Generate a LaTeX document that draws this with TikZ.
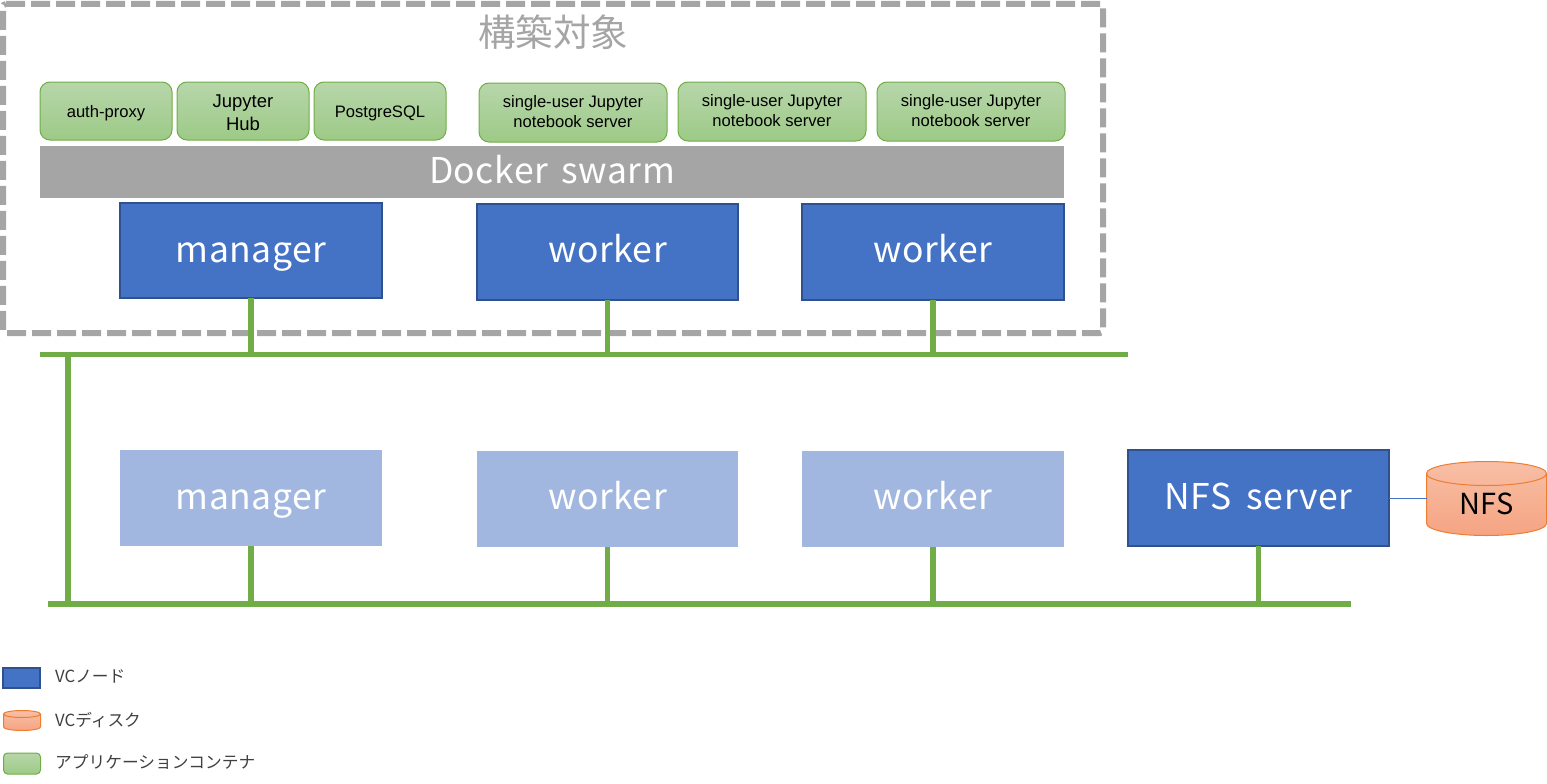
\documentclass[tikz,border=0pt]{standalone}
\usepackage{fontspec}
\setmainfont{Liberation Sans}
\newfontfamily\jpfont[LetterSpace=1.5]{Noto Sans CJK JP}
\newfontfamily\jpplain{Noto Sans CJK JP}
\definecolor{vcblue}{HTML}{4472C4}
\definecolor{vcedge}{HTML}{2F528F}
\definecolor{vclight}{HTML}{A1B7E0}
\definecolor{busgreen}{HTML}{70AD47}
\definecolor{conttop}{HTML}{B7D6AA}
\definecolor{contbot}{HTML}{9DCA87}
\definecolor{disktop}{HTML}{F8BFA6}
\definecolor{diskbot}{HTML}{F5A482}
\definecolor{diskedge}{HTML}{ED7D31}
\definecolor{swarmgrey}{HTML}{A5A5A5}
\tikzset{
  box/.style={anchor=north west,inner sep=0pt,outer sep=0pt},
  bigtext/.style={text height=26pt,text depth=6pt,font=\jpfont\fontsize{35.5}{38}\selectfont},
  lowered/.style={text height=29pt,text depth=6pt},
  vcnode/.style={box,bigtext,fill=vcblue,draw=vcedge,line width=1.6pt,text=white},
  vcghost/.style={box,bigtext,fill=vclight,text=white},
  container/.style={box,rounded corners=10pt,draw=busgreen,line width=1pt,top color=conttop,bottom color=contbot,text=black,font=\fontsize{16.6}{20}\selectfont},
  oneline/.style={text height=16pt,text depth=4pt},
  bus/.style={busgreen,line width=5.5pt},
  legendtext/.style={anchor=west,inner sep=0pt,text=black!75,font=\jpplain\fontsize{16.7}{18}\selectfont},
}
\newcommand{\twolines}[3]{\raisebox{#3}[\height][\depth]{\begin{tabular}{@{}c@{}}#1\\#2\end{tabular}}}
\newcommand{\diskshape}[5]{% x y w h ry
  \path[draw=diskedge,line width=1pt,top color=disktop,bottom color=diskbot]
    (#1pt,-#2pt-#5pt) arc[start angle=180,end angle=0,x radius=#3pt/2,y radius=#5pt]
    -- ++(0pt,-#4pt+2*#5pt) arc[start angle=0,end angle=-180,x radius=#3pt/2,y radius=#5pt] -- cycle;
  \draw[diskedge,line width=1pt] (#1pt,-#2pt-#5pt) arc[start angle=180,end angle=360,x radius=#3pt/2,y radius=#5pt];
}
\begin{document}
\begin{tikzpicture}[x=1pt,y=-1pt]
\useasboundingbox (0,0) rectangle (1547,784);
% target frame
\node[box,minimum width=1100pt,minimum height=329pt] (frame) at (3,4) {};
\draw[swarmgrey,line width=6pt,dash pattern=on 19pt off 6pt,rounded corners=3pt]
  (frame.north west) -- (frame.north east) -- (frame.south east) -- (frame.south west) -- cycle;
\node[anchor=center,inner sep=0pt,text=swarmgrey,font=\jpplain\fontsize{37.5}{40}\selectfont] (title) at (553,32) {構築対象};
% containers
\node[container,oneline,minimum width=132pt,minimum height=58pt] (auth) at (40,82) {auth-proxy};
\node[container,minimum width=132pt,minimum height=58pt,font=\fontsize{18.5}{23}\selectfont] (hub) at (177,82) {\twolines{Jupyter}{Hub}{-3.5pt}};
\node[container,oneline,minimum width=132pt,minimum height=58pt] (pg) at (314,82) {PostgreSQL};
\node[container,minimum width=188pt,minimum height=59pt] (su1) at (479,83) {\twolines{single-user Jupyter}{notebook server}{-1pt}};
\node[container,minimum width=188pt,minimum height=59pt] (su2) at (678,82) {\twolines{single-user Jupyter}{notebook server}{-1pt}};
\node[container,minimum width=188pt,minimum height=59pt] (su3) at (877,82) {\twolines{single-user Jupyter}{notebook server}{-1pt}};
% swarm
\node[box,bigtext,lowered,fill=swarmgrey,minimum width=1024pt,minimum height=52pt,text=white] (swarm) at (40,146) {Docker\hspace{5pt} swarm};
% buses
\coordinate (busAl) at (40,354.5); \coordinate (busAr) at (1128,354.5);
\coordinate (busBl) at (48,604); \coordinate (busBr) at (1351,604);
\coordinate (linkA) at (68,354.5); \coordinate (linkB) at (68,604);
\draw[bus] (busAl) -- (busAr);
\draw[bus] (busBl) -- (busBr);
\draw[bus] (linkA) -- (linkB);
% upper row
\node[vcnode,lowered,minimum width=262pt,minimum height=95pt] (m1) at (120,203) {manager};
\node[vcnode,minimum width=261pt,minimum height=96pt] (w1) at (477,204) {worker};
\node[vcnode,minimum width=262pt,minimum height=96pt] (w2) at (802,204) {worker};
% lower row
\node[vcghost,lowered,minimum width=262pt,minimum height=96pt] (m2) at (120,450) {manager};
\node[vcghost,minimum width=261pt,minimum height=96pt,text height=27pt] (w3) at (477,451) {worker};
\node[vcghost,minimum width=262pt,minimum height=96pt,text height=27pt] (w4) at (802,451) {worker};
\node[vcnode,lowered,minimum width=261pt,minimum height=96pt] (nfss) at (1128,450) {NFS\hspace{7pt} server};
% drops
\draw[bus] (m1.south) -- (m1.south |- busAl);
\draw[bus] (w1.south) -- (w1.south |- busAl);
\draw[bus] (w2.south) -- (w2.south |- busAl);
\draw[bus] (m2.south) -- (m2.south |- busBl);
\draw[bus] (w3.south) -- (w3.south |- busBl);
\draw[bus] (w4.south) -- (w4.south |- busBl);
\draw[bus] (nfss.south) -- (nfss.south |- busBl);
% disk
\diskshape{1426.5}{461.5}{120}{74}{12}
\node[box,text height=34pt,text depth=2pt,minimum width=120pt,minimum height=50pt,text=black,font=\jpfont\fontsize{29}{30}\selectfont] (nfs) at (1426.5,473.5) {NFS};
\draw[vcblue,line width=1pt] (nfss.east) -- (nfss.east -| nfs.west);
% legend
\node[box,fill=vcblue,draw=vcedge,line width=2pt,minimum width=37pt,minimum height=20pt] (lg1) at (3,667.5) {};
\node[legendtext] (lt1) at (55,676) {VCノード};
\diskshape{3.5}{710.5}{37}{20}{3.5}
\node[legendtext] (lt2) at (55,720) {VCディスク};
\node[box,rounded corners=4pt,draw=busgreen,line width=1pt,top color=conttop,bottom color=contbot,minimum width=37pt,minimum height=21pt] (lg3) at (3.5,753) {};
\node[legendtext] (lt3) at (55,762) {アプリケーションコンテナ};
\end{tikzpicture}
\end{document}
